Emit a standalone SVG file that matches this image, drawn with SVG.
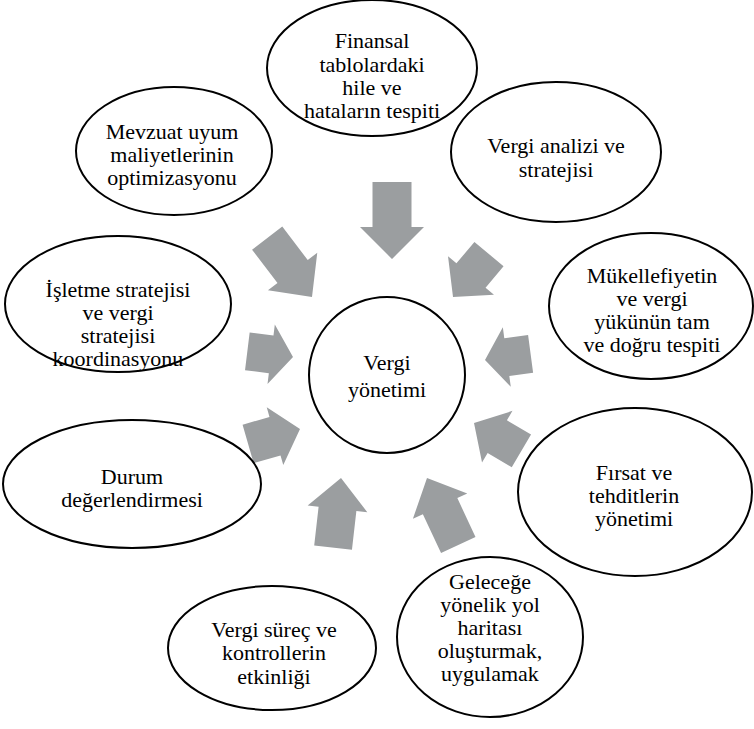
<svg xmlns="http://www.w3.org/2000/svg" width="754" height="729" viewBox="0 0 754 729">
<style>
.n{fill:#fff;stroke:#000;stroke-width:2}
text{font-family:'Liberation Serif','Tinos','Times New Roman','DejaVu Serif','Noto Serif',serif;font-size:22px;fill:#000;text-anchor:middle}
.a{fill:#9b9ea0;stroke:none}
</style>
<rect width="754" height="729" fill="#fff"/>
<g id="connectors">
<path class="a" transform="translate(392,259) rotate(90)" d="M0,0 L-32,-32 L-32,-19.5 L-77,-19.5 L-77,19.5 L-32,19.5 L-32,32 Z"/>
<path class="a" transform="translate(312,297) rotate(52.7)" d="M0,0 L-32,-31 L-32,-19 L-74,-19 L-74,19 L-32,19 L-32,31 Z"/>
<path class="a" transform="translate(453,297) rotate(130)" d="M0,0 L-28,-30 L-28,-19 L-56,-19 L-56,19 L-28,19 L-28,30 Z"/>
<path class="a" transform="translate(293,357) rotate(7)" d="M0,0 L-22,-30 L-22,-19 L-46,-19 L-46,19 L-22,19 L-22,30 Z"/>
<path class="a" transform="translate(300,429) rotate(-16)" d="M0,0 L-26,-30 L-26,-20 L-54,-20 L-54,20 L-26,20 L-26,30 Z"/>
<path class="a" transform="translate(341,478) rotate(-83.5)" d="M0,0 L-31,-30 L-31,-19 L-70,-19 L-70,19 L-31,19 L-31,30 Z"/>
<path class="a" transform="translate(427,478) rotate(-115)" d="M0,0 L-31,-30 L-31,-19 L-74,-19 L-74,19 L-31,19 L-31,30 Z"/>
<path class="a" transform="translate(474,423) rotate(210.5)" d="M0,0 L-27,-30 L-27,-19 L-55,-19 L-55,19 L-27,19 L-27,30 Z"/>
<path class="a" transform="translate(485,360) rotate(172.4)" d="M0,0 L-22,-30 L-22,-19 L-46,-19 L-46,19 L-22,19 L-22,30 Z"/>
</g>
<g id="center">
<circle class="n" cx="387" cy="375" r="78"/>
<text x="387" y="370">Vergi</text>
<text x="387" y="397">yönetimi</text>
</g>
<g id="n1">
<ellipse class="n" cx="372" cy="68" rx="105" ry="68"/>
<text x="372" y="48">Finansal</text>
<text x="372" y="72">tablolardaki</text>
<text x="372" y="95">hile ve</text>
<text x="372" y="118">hataların tespiti</text>
</g>
<g id="n2">
<ellipse class="n" cx="174" cy="151" rx="98" ry="64"/>
<text x="172" y="139">Mevzuat uyum</text>
<text x="172" y="162">maliyetlerinin</text>
<text x="172" y="185">optimizasyonu</text>
</g>
<g id="n3">
<ellipse class="n" cx="556" cy="152" rx="105" ry="70"/>
<text x="556" y="153">Vergi analizi ve</text>
<text x="556" y="177">stratejisi</text>
</g>
<g id="n4">
<ellipse class="n" cx="118" cy="304" rx="113" ry="68"/>
<text x="118" y="297">İşletme stratejisi</text>
<text x="118" y="320">ve vergi</text>
<text x="118" y="343">stratejisi</text>
<text x="118" y="366">koordinasyonu</text>
</g>
<g id="n5">
<ellipse class="n" cx="651" cy="306" rx="102" ry="73"/>
<text x="652" y="283">Mükellefiyetin</text>
<text x="652" y="306">ve vergi</text>
<text x="652" y="329">yükünün tam</text>
<text x="652" y="352">ve doğru tespiti</text>
</g>
<g id="n6">
<ellipse class="n" cx="132" cy="484" rx="129" ry="64"/>
<text x="132" y="484">Durum</text>
<text x="132" y="507">değerlendirmesi</text>
</g>
<g id="n7">
<ellipse class="n" cx="635" cy="492" rx="117" ry="84"/>
<text x="634" y="480">Fırsat ve</text>
<text x="634" y="503">tehditlerin</text>
<text x="634" y="526">yönetimi</text>
</g>
<g id="n8">
<ellipse class="n" cx="272" cy="648" rx="104" ry="62"/>
<text x="274" y="637">Vergi süreç ve</text>
<text x="274" y="660">kontrollerin</text>
<text x="274" y="684">etkinliği</text>
</g>
<g id="n9">
<ellipse class="n" cx="490" cy="637" rx="93" ry="80"/>
<text x="490" y="589">Geleceğe</text>
<text x="490" y="612">yönelik yol</text>
<text x="490" y="635">haritası</text>
<text x="490" y="658">oluşturmak,</text>
<text x="490" y="681">uygulamak</text>
</g>
</svg>
